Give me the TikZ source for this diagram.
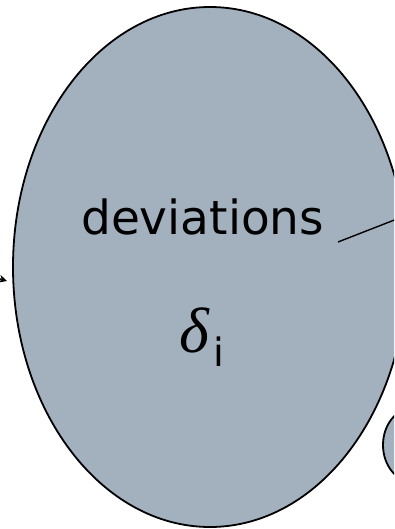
\documentclass[tikz,border=0pt]{standalone}
\usepackage{fontspec}
\usepackage{tikz}
\usetikzlibrary{arrows.meta, positioning, shapes.geometric}
\newfontfamily\labelfont{DejaVu Sans}
\newfontfamily\greekfont{Liberation Serif}
\definecolor{blobgray}{HTML}{A3B1BF}

\begin{document}
\begin{tikzpicture}[
    x=1pt, y=-1pt,
    blob/.style={ellipse, draw, line width=1.8pt, fill=blobgray, inner sep=0pt},
    word/.style={anchor=base west, inner sep=0pt, font=\labelfont\fontsize{47}{48}\selectfont},
    subword/.style={anchor=base west, inner sep=0pt, font=\labelfont\fontsize{39}{40}\selectfont},
    greek/.style={anchor=base west, inner sep=0pt, font=\greekfont\itshape\fontsize{64}{64}\selectfont},
    link/.style={line width=1.4pt},
    arrow/.style={-{Stealth[length=8pt, width=8pt]}, line width=1.4pt},
]
\clip (0,0) rectangle (394,529);
\useasboundingbox (0,0) rectangle (394,529);

% Blobs
\node[blob, minimum width=394pt, minimum height=520pt] (dev) at (210,267) {};
\node[blob, minimum width=60pt, minimum height=74pt] (next) at (413,445) {};

% Labels
\node[word] (devlabel) at (81,234) {deviations};
\node[greek] (delta) at (179,352) {δ};
\node[subword] (sub) at (213,366) {i};

% Connectors
\coordinate (tail) at (338,242);
\coordinate (away) at (420,210);
\draw[link] (tail) -- (away);

\coordinate (src) at (-30,270);
\coordinate (tip) at (7,281);
\draw[arrow] (src) -- (tip);

\end{tikzpicture}
\end{document}
